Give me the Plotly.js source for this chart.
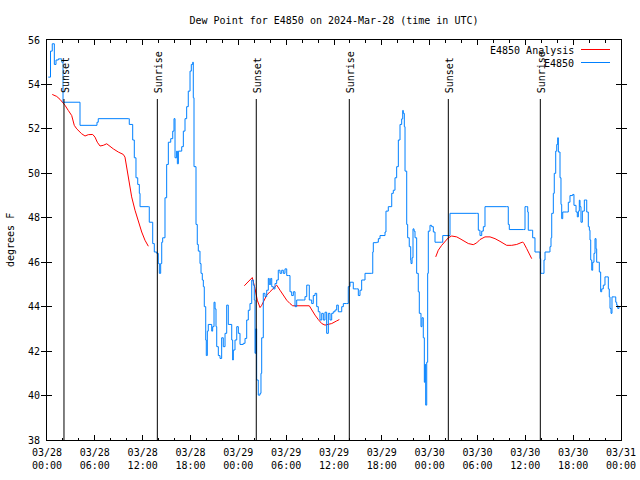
<!DOCTYPE html>
<html>
<head>
<meta charset="utf-8">
<script src="https://cdn.plot.ly/plotly-3.0.1.min.js"></script>
<style>html,body{margin:0;padding:0;background:#fff;}#chart{width:640px;height:480px;}</style>
</head>
<body>
<div id="chart"></div>
<script>
// Hours since 2024-03-28 00:00 UTC
const obsHours = [0.16,0.44,0.66,0.92,1.13,1.42,1.85,2.01,4.01,4.14,6.02,6.27,6.43,10.2,10.32,10.75,10.95,11.16,11.38,11.58,11.67,12.71,12.83,13.26,13.46,13.76,13.96,14.09,14.26,14.39,14.51,14.8,15.01,15.22,15.52,15.77,15.93,16.06,16.26,16.35,16.48,16.9,17.1,17.31,17.52,17.72,17.94,18.1,18.28,18.35,18.44,18.69,18.85,18.98,19.19,19.32,19.48,19.61,19.73,19.91,19.98,20.11,20.23,20.45,20.66,20.78,20.95,21.08,21.2,21.29,21.49,21.7,21.91,22.11,22.33,22.54,22.74,22.95,23.17,23.29,23.37,23.58,23.8,24.0,24.21,24.62,24.84,25.05,25.25,25.46,25.68,25.88,26.0,26.09,26.18,26.3,26.5,26.72,26.84,26.93,27.13,27.34,27.56,27.76,27.88,28.06,28.19,28.39,28.6,28.81,29.01,29.23,29.44,29.64,29.85,30.07,30.27,30.48,30.69,30.9,31.11,31.32,32.15,32.36,32.58,32.78,32.9,33.2,33.4,33.62,33.83,34.03,34.24,34.46,34.66,34.87,35.08,35.29,35.5,35.71,35.91,36.13,36.34,36.54,36.75,36.97,37.17,37.59,37.79,38.01,38.42,38.84,39.05,39.26,39.47,39.89,40.73,40.86,40.93,41.36,41.56,41.77,42.4,42.52,42.81,43.24,43.44,43.65,43.86,44.07,44.28,44.49,44.62,44.69,44.82,44.91,45.12,45.24,45.44,45.62,45.66,45.79,45.91,46.04,46.16,46.37,46.57,46.7,46.91,47.04,47.2,47.33,47.42,47.5,47.63,47.75,47.83,48.04,48.25,48.46,48.67,49.51,49.64,50.34,50.55,53.9,54.1,54.31,54.53,54.73,54.94,57.66,57.86,57.99,59.75,59.96,60.17,60.3,60.37,60.8,60.92,61.09,61.21,61.75,61.84,61.93,62.18,62.34,62.47,63.01,63.09,63.22,63.31,63.51,63.63,63.81,63.94,64.06,64.14,64.35,64.47,64.56,64.69,65.19,65.39,65.6,65.94,66.1,66.36,66.52,66.65,66.77,66.86,66.98,67.15,67.4,67.58,67.7,67.9,68.03,68.11,68.2,68.33,68.45,68.61,68.74,68.87,68.95,69.15,69.28,69.45,69.58,69.78,69.99,70.21,70.41,70.53,70.62,70.75,70.87,71.16,71.34,71.46,71.59,71.75,71.88];
const obsDew = [54.33,55.5,55.83,54.9,55.1,55.15,55.0,53.2,53.2,52.16,52.16,52.3,52.46,52.46,52.2,51.5,50.7,49.8,49.5,49.1,48.5,48.5,47.8,46.84,46.46,46.4,45.94,45.5,45.94,46.9,47.1,48.9,50.4,51.4,51.56,51.9,52.46,50.7,51.0,50.43,51.0,51.2,51.9,52.46,53.0,53.7,54.6,54.9,55.0,53.4,50.3,47.7,46.8,46.5,45.94,45.5,45.2,44.9,44.0,42.5,41.8,42.9,43.2,43.2,42.9,43.1,44.2,43.9,43.1,42.2,41.8,41.67,42.6,42.2,42.8,44.07,43.2,43.2,42.5,41.6,42.05,42.5,43.1,42.8,42.3,42.35,42.57,43.4,43.84,44.14,45.2,44.97,44.3,41.9,43.0,40.7,40.02,40.1,41.0,42.6,44.6,44.45,44.74,45.27,45.0,45.27,44.9,44.8,45.04,45.2,45.64,45.5,45.64,45.5,45.7,45.4,45.4,44.67,44.5,44.67,44.0,44.3,44.3,44.45,44.97,44.97,44.3,44.14,44.5,44.6,44.0,43.77,43.4,43.7,43.4,43.75,42.8,43.7,43.4,43.7,43.77,43.85,44.07,43.77,43.77,44.0,44.14,44.14,44.9,45.1,44.8,44.8,44.5,44.74,45.2,45.5,45.5,46.46,46.88,46.9,47.06,47.2,47.36,48.3,48.5,49.1,49.24,49.8,50.3,51.5,52.2,52.45,52.83,52.7,52.1,50.1,47.7,47.1,46.7,46.1,45.94,46.2,47.5,47.4,47.1,45.5,44.67,43.7,43.1,43.5,42.6,40.6,41.4,39.57,41.5,45.5,47.4,47.66,47.6,47.36,46.9,46.9,47.2,47.2,48.2,48.2,47.44,47.2,47.4,47.6,48.5,48.5,47.7,47.47,47.47,48.5,48.5,48.26,47.44,47.44,47.1,47.1,46.46,46.46,46.16,45.5,45.5,46.1,46.46,46.46,46.7,47.1,48.2,49.1,50.0,51.0,51.3,51.6,50.96,49.8,48.6,47.96,48.26,48.26,48.7,49.0,49.05,48.56,48.26,48.04,48.3,48.79,48.5,47.8,48.3,48.8,48.8,48.26,47.6,47.44,47.0,46.1,45.64,46.0,46.4,47.06,46.6,46.0,46.0,45.56,44.67,44.8,44.97,45.34,45.34,44.8,44.44,43.92,43.7,44.44,44.44,44.2,44.07,43.92,44.0,44.0];

const anaHours = [0.66,1.22,1.63,2.26,2.67,3.1,3.42,3.73,4.35,4.77,5.18,5.73,6.02,6.31,6.65,7.06,7.49,7.9,8.32,8.94,9.57,9.78,10.0,10.2,10.41,10.62,11.04,11.45,11.88,12.29,12.71,
  null,
  24.75,25.75,26.09,26.38,26.72,26.93,27.26,27.56,27.97,28.39,28.81,29.23,29.64,30.07,30.48,30.82,32.9,33.2,33.62,34.03,34.46,34.87,35.71,36.34,36.67,
  null,
  48.76,49.08,49.51,49.92,50.34,50.76,51.39,51.8,52.22,52.85,53.47,53.9,54.31,54.94,55.57,56.2,56.82,57.24,57.66,58.29,58.92,59.67,59.83,60.17,60.59,60.8];
const anaDew = [53.55,53.46,53.33,53.06,52.83,52.6,52.16,52.0,51.78,51.68,51.74,51.75,51.63,51.4,51.23,51.26,51.33,51.2,51.1,50.96,50.85,50.73,50.28,49.83,49.38,48.94,48.34,47.81,47.36,46.99,46.72,
  null,
  44.94,45.31,44.82,44.29,43.96,44.06,44.3,44.52,44.67,44.82,44.97,44.74,44.52,44.29,44.14,44.04,44.04,43.84,43.62,43.42,43.24,43.17,43.24,43.36,43.42,
  null,
  46.24,46.54,46.76,46.91,47.1,47.18,47.14,47.06,46.96,46.84,46.79,46.87,47.02,47.14,47.14,47.06,46.94,46.84,46.76,46.76,46.8,46.91,46.84,46.61,46.31,46.16];

const sunHours = [2.13, 13.84, 26.25, 37.92, 50.34, 61.88];
const sunLabels = ["Sunset", "Sunrise", "Sunset", "Sunrise", "Sunset", "Sunrise"];

const tickHours = [0,6,12,18,24,30,36,42,48,54,60,66,72];
const tickDates = ["03/28","03/28","03/28","03/28","03/29","03/29","03/29","03/29","03/30","03/30","03/30","03/30","03/31"];
const tickTimes = ["00:00","06:00","12:00","18:00","00:00","06:00","12:00","18:00","00:00","06:00","12:00","18:00","00:00"];
const minorHours = [];
for (let h = 2; h < 72; h += 2) if (h % 6 !== 0) minorHours.push(h);

const seriesNames = ["E4850 Analysis", "E4850"];
const seriesColors = ["#ff0000", "#0080ff"];

const FONT = "DejaVu Sans Mono, monospace";
const L = 47, R = 621, T = 40, B = 440;
const px2xp = px => (px - L) / (R - L);
const py2yp = py => (B - py) / (B - T);

const traces = [
  {x: anaHours, y: anaDew, type: "scatter", mode: "lines", name: seriesNames[0],
   line: {color: seriesColors[0], width: 1}, connectgaps: false, showlegend: false},
  {x: obsHours, y: obsDew, type: "scatter", mode: "lines", name: seriesNames[1],
   line: {color: seriesColors[1], width: 1, shape: "hv"}, showlegend: false},
  // invisible carrier so the second (time-of-day) label row is drawn
  {x: [tickHours[0]], y: [38], xaxis: "x2", type: "scatter", mode: "markers",
   marker: {opacity: 0, size: 1}, showlegend: false, hoverinfo: "skip"}
];

const shapes = [];
const annotations = [];
sunHours.forEach((h, i) => {
  shapes.push({type: "line", xref: "x", yref: "paper", x0: h, x1: h, y0: 0, y1: py2yp(99),
    line: {color: "#000", width: 1}});
  annotations.push({xref: "x", yref: "paper", x: h, y: py2yp(92), text: sunLabels[i],
    textangle: -90, showarrow: false, xanchor: "center", yanchor: "bottom", xshift: 1, yshift: -2,
    borderpad: 0, font: {family: FONT, size: 10, color: "#000"}});
});
// manual legend (text then sample, gnuplot style)
seriesNames.forEach((n, i) => {
  const py = i === 0 ? 50 : 63;
  annotations.push({xref: "paper", yref: "paper", x: px2xp(575), y: py2yp(py), text: n,
    showarrow: false, xanchor: "right", yanchor: "middle", borderpad: 0,
    font: {family: FONT, size: 10, color: "#000"}});
  shapes.push({type: "line", xref: "paper", yref: "paper", x0: px2xp(581), x1: px2xp(610),
    y0: py2yp(py - 0.5), y1: py2yp(py - 0.5), line: {color: seriesColors[i], width: 1}});
});
annotations.push({xref: "paper", yref: "paper", x: px2xp(10), y: 0.5, text: "degrees F",
  textangle: -90, showarrow: false, xanchor: "center", yanchor: "middle",
  font: {family: FONT, size: 10, color: "#000"}});

const tickFont = {family: FONT, size: 10, color: "#000"};
const layout = {
  width: 640, height: 480,
  margin: {l: L, r: 640 - R, t: T, b: 480 - B},
  paper_bgcolor: "#fff", plot_bgcolor: "#fff",
  font: {family: FONT, size: 10, color: "#000"},
  title: {text: "Dew Point for E4850 on 2024-Mar-28 (time in UTC)", x: 0.5, xref: "paper",
    y: 1 - 20 / 480, yref: "container", yanchor: "middle", font: {family: FONT, size: 10, color: "#000"}},
  xaxis: {range: [0, 72], tickmode: "array", tickvals: tickHours, ticktext: tickDates,
    ticks: "inside", ticklen: 5, tickwidth: 1, tickcolor: "#000",
    showline: true, linecolor: "#000", linewidth: 1, mirror: "allticks",
    showgrid: false, zeroline: false, fixedrange: true, ticklabelstandoff: 3,
    minor: {tickmode: "array", tickvals: minorHours, ticks: "inside", ticklen: 2.5, tickcolor: "#000", showgrid: false},
    tickfont: tickFont},
  xaxis2: {range: [0, 72], overlaying: "x", anchor: "y", side: "bottom",
    tickmode: "array", tickvals: tickHours, ticktext: tickTimes, ticks: "",
    showline: false, showgrid: false, zeroline: false, fixedrange: true,
    ticklabelstandoff: 18, tickfont: tickFont},
  yaxis: {range: [38, 56], tickmode: "linear", tick0: 38, dtick: 2,
    ticks: "inside", ticklen: 5, tickwidth: 1, tickcolor: "#000",
    showline: true, linecolor: "#000", linewidth: 1, mirror: "allticks",
    showgrid: false, zeroline: false, fixedrange: true, ticklabelstandoff: 4,
    tickfont: tickFont},
  shapes: shapes,
  annotations: annotations,
  showlegend: false
};

Plotly.newPlot("chart", traces, layout, {staticPlot: true, displayModeBar: false});
</script>
</body>
</html>
